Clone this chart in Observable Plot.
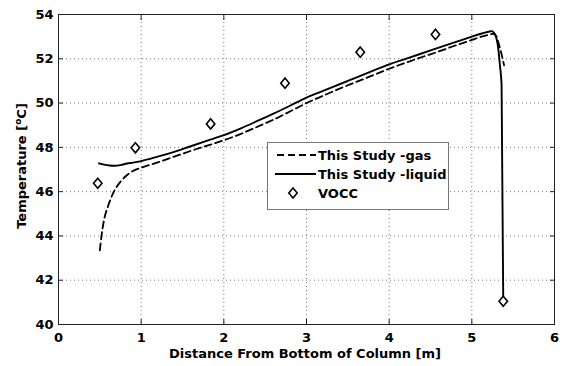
<!DOCTYPE html>
<html>
<head>
<meta charset="utf-8">
<script src="https://cdn.jsdelivr.net/npm/d3@7"></script>
<script src="https://cdn.jsdelivr.net/npm/@observablehq/plot@0.6"></script>
<style>
  html, body { margin: 0; padding: 0; background: #fff; }
  #chart { position: relative; width: 567px; height: 366px; }
</style>
</head>
<body>
<div id="chart"></div>
<script>
// ---- data ----
const gasX = [0.50, 0.52, 0.55, 0.60, 0.67, 0.75, 0.83, 0.90, 1.00, 1.20, 1.40, 1.60, 1.80, 2.00, 2.20, 2.40, 2.60, 2.80, 3.00, 3.20, 3.40, 3.60, 3.80, 4.00, 4.20, 4.40, 4.60, 4.80, 5.00, 5.10, 5.20, 5.26, 5.30, 5.32, 5.35, 5.39];
const gasY = [43.35, 44.0, 44.7, 45.35, 46.0, 46.45, 46.75, 46.93, 47.08, 47.32, 47.58, 47.84, 48.08, 48.32, 48.6, 48.92, 49.25, 49.62, 50.0, 50.33, 50.65, 50.95, 51.25, 51.55, 51.82, 52.08, 52.33, 52.6, 52.85, 52.98, 53.08, 53.13, 53.0, 52.75, 52.35, 51.7];

const liqX = [0.49, 0.55, 0.62, 0.68, 0.75, 0.83, 0.90, 1.00, 1.20, 1.40, 1.60, 1.80, 2.00, 2.20, 2.40, 2.60, 2.80, 3.00, 3.20, 3.40, 3.60, 3.80, 4.00, 4.20, 4.40, 4.60, 4.80, 5.00, 5.10, 5.20, 5.24, 5.28, 5.32, 5.34, 5.36, 5.38];
const liqY = [47.28, 47.22, 47.18, 47.17, 47.2, 47.27, 47.31, 47.38, 47.58, 47.8, 48.05, 48.3, 48.55, 48.85, 49.18, 49.52, 49.88, 50.25, 50.55, 50.85, 51.15, 51.45, 51.75, 52.0, 52.25, 52.5, 52.75, 53.0, 53.12, 53.22, 53.25, 53.1, 52.45, 51.7, 50.8, 41.05];

const voccX = [0.475, 0.93, 1.84, 2.74, 3.65, 4.56, 5.38];
const voccY = [46.38, 47.98, 49.06, 50.9, 52.3, 53.1, 41.05];

const xTicks = [0, 1, 2, 3, 4, 5, 6];
const yTicks = [40, 42, 44, 46, 48, 50, 52, 54];

const seriesNames = ["This Study -gas", "This Study -liquid", "VOCC"];
const xLabel = "Distance From Bottom of Column [m]";
const yLabelMain = "Temperature [";
const yLabelSup = "o";
const yLabelEnd = "C]";

// ---- build tables ----
const gas = gasX.map((x, i) => ({x, y: gasY[i]}));
const liquid = liqX.map((x, i) => ({x, y: liqY[i]}));
const vocc = voccX.map((x, i) => ({x, y: voccY[i]}));

// MATLAB-like diamond (slightly taller than wide)
const diamond = {
  draw(context, size) {
    const w = Math.sqrt(size / 2.4), h = 1.2 * w;
    context.moveTo(0, -h);
    context.lineTo(w, 0);
    context.lineTo(0, h);
    context.lineTo(-w, 0);
    context.closePath();
  }
};

const font = "'DejaVu Sans', sans-serif";

const chart = Plot.plot({
  width: 567,
  height: 366,
  marginLeft: 58,
  marginRight: 13,
  marginTop: 14,
  marginBottom: 42,
  style: {fontFamily: font, fontSize: "13px", fontWeight: "bold", color: "#000", background: "#fff", overflow: "visible"},
  x: {domain: [0, 6], ticks: xTicks},
  y: {domain: [40, 54], ticks: yTicks},
  marks: [
    Plot.gridX(xTicks, {stroke: "#777", strokeOpacity: 1, strokeDasharray: "1,3", strokeWidth: 1}),
    Plot.gridY(yTicks, {stroke: "#777", strokeOpacity: 1, strokeDasharray: "1,3", strokeWidth: 1}),
    Plot.axisX(xTicks, {anchor: "bottom", tickSize: -5, tickPadding: 13, label: null, stroke: "#222"}),
    Plot.axisX(xTicks, {anchor: "top", tickSize: -5, text: null, label: null, stroke: "#222"}),
    Plot.axisY(yTicks, {anchor: "left", tickSize: -5, tickPadding: 10, label: null, stroke: "#222"}),
    Plot.axisY(yTicks, {anchor: "right", tickSize: -5, text: null, label: null, stroke: "#222"}),
    Plot.frame({stroke: "#222", strokeWidth: 1}),
    Plot.line(gas, {x: "x", y: "y", stroke: "#000", strokeWidth: 1.8, strokeDasharray: "7,4", curve: "monotone-x"}),
    Plot.line(liquid, {x: "x", y: "y", stroke: "#000", strokeWidth: 1.9, curve: "monotone-x"}),
    Plot.dot(vocc, {x: "x", y: "y", symbol: diamond, r: 3.7, stroke: "#000", strokeWidth: 1.6, fill: "#fff"})
  ]
});

document.getElementById("chart").appendChild(chart);

// ---- labels and legend drawn on top ----
const svg = d3.select(chart);

svg.append("text")
  .attr("x", 305).attr("y", 358)
  .attr("text-anchor", "middle")
  .attr("font-family", font).attr("font-size", 13).attr("font-weight", "bold")
  .attr("fill", "#000")
  .text(xLabel);

const yl = svg.append("text")
  .attr("transform", "translate(26,166) rotate(-90)")
  .attr("text-anchor", "middle")
  .attr("font-family", font).attr("font-size", 13).attr("font-weight", "bold")
  .attr("fill", "#000");
yl.append("tspan").text(yLabelMain);
yl.append("tspan").attr("dy", -5).attr("font-size", 9).text(yLabelSup);
yl.append("tspan").attr("dy", 5).text(yLabelEnd);

const lg = svg.append("g").attr("font-family", font).attr("font-size", 13).attr("font-weight", "bold")
  .attr("text-anchor", "start");
lg.append("rect").attr("x", 267.5).attr("y", 142.5).attr("width", 181).attr("height", 67)
  .attr("fill", "#fff").attr("stroke", "#777").attr("stroke-width", 1);
const rowY = [155, 174, 193];
lg.append("line").attr("x1", 277).attr("x2", 316).attr("y1", rowY[0]).attr("y2", rowY[0])
  .attr("stroke", "#000").attr("stroke-width", 1.8).attr("stroke-dasharray", "7,4");
lg.append("line").attr("x1", 275).attr("x2", 316).attr("y1", rowY[1]).attr("y2", rowY[1])
  .attr("stroke", "#000").attr("stroke-width", 1.9);
lg.append("path").attr("transform", `translate(293,${rowY[2]})`)
  .attr("d", d3.symbol(diamond, Math.PI * 3.7 * 3.7)())
  .attr("fill", "#fff").attr("stroke", "#000").attr("stroke-width", 1.6);
seriesNames.forEach((s, i) => {
  lg.append("text").attr("x", 318).attr("y", rowY[i]).attr("dy", "0.36em")
    .attr("text-anchor", "start")
    .attr("fill", "#000").text(s);
});
</script>
</body>
</html>
